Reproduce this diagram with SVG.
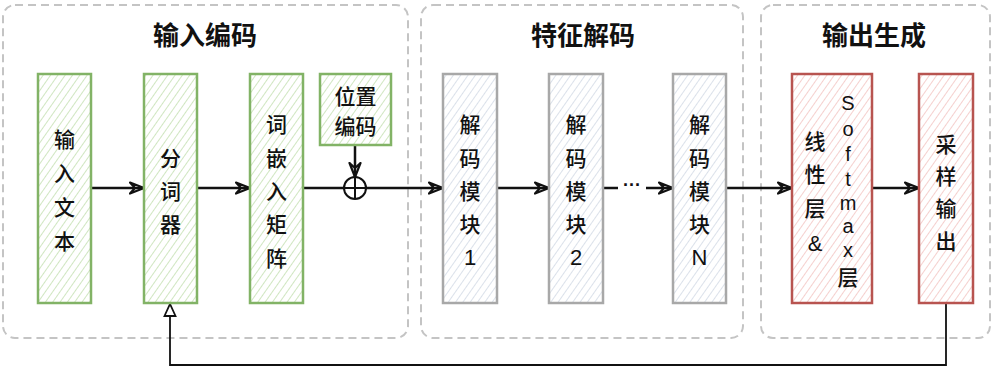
<svg xmlns="http://www.w3.org/2000/svg" width="1000" height="383" viewBox="0 0 1000 383">
<style>
.grp{fill:none;stroke:#c4c4c4;stroke-width:2;stroke-dasharray:8 5}
.title{font-family:"Noto Sans CJK SC","Noto Sans",sans-serif;font-size:26px;font-weight:bold;fill:#111;text-anchor:middle;dominant-baseline:central}
.t{font-family:"Noto Sans CJK SC","Noto Sans",sans-serif;font-size:21px;font-weight:500;fill:#111;text-anchor:middle;dominant-baseline:central}
.lat{font-family:"Liberation Sans","Noto Sans",sans-serif;font-size:20px;fill:#111;text-anchor:middle;dominant-baseline:central}
.green{fill:url(#hg);stroke:#82b366;stroke-width:2.5}
.gray{fill:url(#hb);stroke:#a8a8a8;stroke-width:2.5}
.red{fill:url(#hr);stroke:#b85450;stroke-width:2.5}
.e{fill:none;stroke:#111;stroke-width:2.5}
.fb{fill:none;stroke:#111;stroke-width:1.8}
</style>
<defs>
<pattern id="hg" width="6" height="6" patternUnits="userSpaceOnUse" patternTransform="rotate(35)">
<rect width="6" height="6" fill="#fff"/><line x1="0" y1="0" x2="0" y2="6" stroke="#bcdca6" stroke-width="1.4"/></pattern>
<pattern id="hb" width="6" height="6" patternUnits="userSpaceOnUse" patternTransform="rotate(35)">
<rect width="6" height="6" fill="#fff"/><line x1="0" y1="0" x2="0" y2="6" stroke="#ccd5e2" stroke-width="1.4"/></pattern>
<pattern id="hr" width="6" height="6" patternUnits="userSpaceOnUse" patternTransform="rotate(35)">
<rect width="6" height="6" fill="#fff"/><line x1="0" y1="0" x2="0" y2="6" stroke="#f2bcb9" stroke-width="1.4"/></pattern>
<marker id="arr" viewBox="0 0 16 14" refX="15" refY="7" markerWidth="16" markerHeight="14" markerUnits="userSpaceOnUse" orient="auto">
<path d="M1,1.5 L15,7 L1,12.5 L6,7 Z" fill="none" stroke="#111" stroke-width="2.2" stroke-linejoin="round"/>
</marker>
<marker id="tri" viewBox="0 0 14 14" refX="13" refY="7" markerWidth="14" markerHeight="14" markerUnits="userSpaceOnUse" orient="auto">
<path d="M1,1.5 L13,7 L1,12.5 Z" fill="#fff" stroke="#111" stroke-width="1.8"/>
</marker>
</defs>
<rect width="1000" height="383" fill="#fff"/>

<g id="group-input">
<rect class="grp" x="3" y="5" width="405" height="333" rx="12"/>
<text class="title" x="205" y="33">输入编码</text>
</g>
<g id="group-decode">
<rect class="grp" x="421" y="5" width="322" height="333" rx="12"/>
<text class="title" x="583" y="33">特征解码</text>
</g>
<g id="group-output">
<rect class="grp" x="761" y="5" width="229" height="333" rx="12"/>
<text class="title" x="874" y="33">输出生成</text>
</g>

<g id="connectors">
<line class="e" x1="91" y1="188" x2="144" y2="188" marker-end="url(#arr)"/>
<line class="e" x1="197" y1="188" x2="250" y2="188" marker-end="url(#arr)"/>
<line class="e" x1="303" y1="188" x2="344" y2="188"/>
<line class="e" x1="355" y1="145" x2="355" y2="177" marker-end="url(#arr)"/>
<line class="e" x1="366" y1="188" x2="443" y2="188" marker-end="url(#arr)"/>
<g id="plus">
<circle cx="355" cy="188" r="11" fill="#fff" stroke="#111" stroke-width="2"/>
<line x1="344" y1="188" x2="366" y2="188" stroke="#111" stroke-width="2"/>
<line x1="355" y1="177" x2="355" y2="199" stroke="#111" stroke-width="2"/>
</g>
<line class="e" x1="497" y1="188" x2="549" y2="188" marker-end="url(#arr)"/>
<line class="e" x1="603" y1="188" x2="673" y2="188" marker-end="url(#arr)"/>
<rect x="618" y="178" width="28" height="18" fill="#fff"/>
<text class="lat" x="632" y="185" style="font-size:18px;font-weight:bold">···</text>
<line class="e" x1="726" y1="188" x2="792" y2="188" marker-end="url(#arr)"/>
<line class="e" x1="872" y1="188" x2="919" y2="188" marker-end="url(#arr)"/>
<polyline class="fb" points="946,303 946,365 170,365 170,304" marker-end="url(#tri)"/>
</g>

<g id="node-input-text">
<rect class="green" x="38" y="74" width="53" height="229"/>
<text class="t" x="64.5" y="138">输</text><text class="t" x="64.5" y="172">入</text><text class="t" x="64.5" y="206">文</text><text class="t" x="64.5" y="240">本</text>
</g>
<g id="node-tokenizer">
<rect class="green" x="144" y="74" width="53" height="229"/>
<text class="t" x="170.5" y="157">分</text><text class="t" x="170.5" y="190">词</text><text class="t" x="170.5" y="223">器</text>
</g>
<g id="node-embedding">
<rect class="green" x="250" y="74" width="53" height="229"/>
<text class="t" x="276.5" y="123">词</text><text class="t" x="276.5" y="157">嵌</text><text class="t" x="276.5" y="190">入</text><text class="t" x="276.5" y="223">矩</text><text class="t" x="276.5" y="257">阵</text>
</g>
<g id="node-position">
<rect class="green" x="320" y="74" width="71" height="71"/>
<text class="t" x="355.5" y="95">位置</text><text class="t" x="355.5" y="125">编码</text>
</g>
<g id="node-dec1">
<rect class="gray" x="443" y="74" width="54" height="229"/>
<text class="t" x="470" y="123">解</text><text class="t" x="470" y="157">码</text><text class="t" x="470" y="190">模</text><text class="t" x="470" y="223">块</text><text class="lat" x="470" y="257" style="font-size:22px">1</text>
</g>
<g id="node-dec2">
<rect class="gray" x="549" y="74" width="54" height="229"/>
<text class="t" x="576" y="123">解</text><text class="t" x="576" y="157">码</text><text class="t" x="576" y="190">模</text><text class="t" x="576" y="223">块</text><text class="lat" x="576" y="257" style="font-size:22px">2</text>
</g>
<g id="node-decN">
<rect class="gray" x="673" y="74" width="53" height="229"/>
<text class="t" x="699.5" y="123">解</text><text class="t" x="699.5" y="157">码</text><text class="t" x="699.5" y="190">模</text><text class="t" x="699.5" y="223">块</text><text class="lat" x="699.5" y="257" style="font-size:22px">N</text>
</g>
<g id="node-linear-softmax">
<rect class="red" x="792" y="74" width="80" height="229"/>
<text class="t" x="815" y="140">线</text><text class="t" x="815" y="173">性</text><text class="t" x="815" y="207">层</text><text class="lat" x="815" y="243" style="font-size:22px">&amp;</text>
<text class="lat" x="848" y="103">S</text><text class="lat" x="848" y="129">o</text><text class="lat" x="848" y="154">f</text><text class="lat" x="848" y="179">t</text><text class="lat" x="848" y="203">m</text><text class="lat" x="848" y="226">a</text><text class="lat" x="848" y="250">x</text><text class="t" x="848" y="276">层</text>
</g>
<g id="node-sample">
<rect class="red" x="919" y="74" width="54" height="229"/>
<text class="t" x="946" y="143">采</text><text class="t" x="946" y="175">样</text><text class="t" x="946" y="207">输</text><text class="t" x="946" y="240">出</text>
</g>
</svg>
